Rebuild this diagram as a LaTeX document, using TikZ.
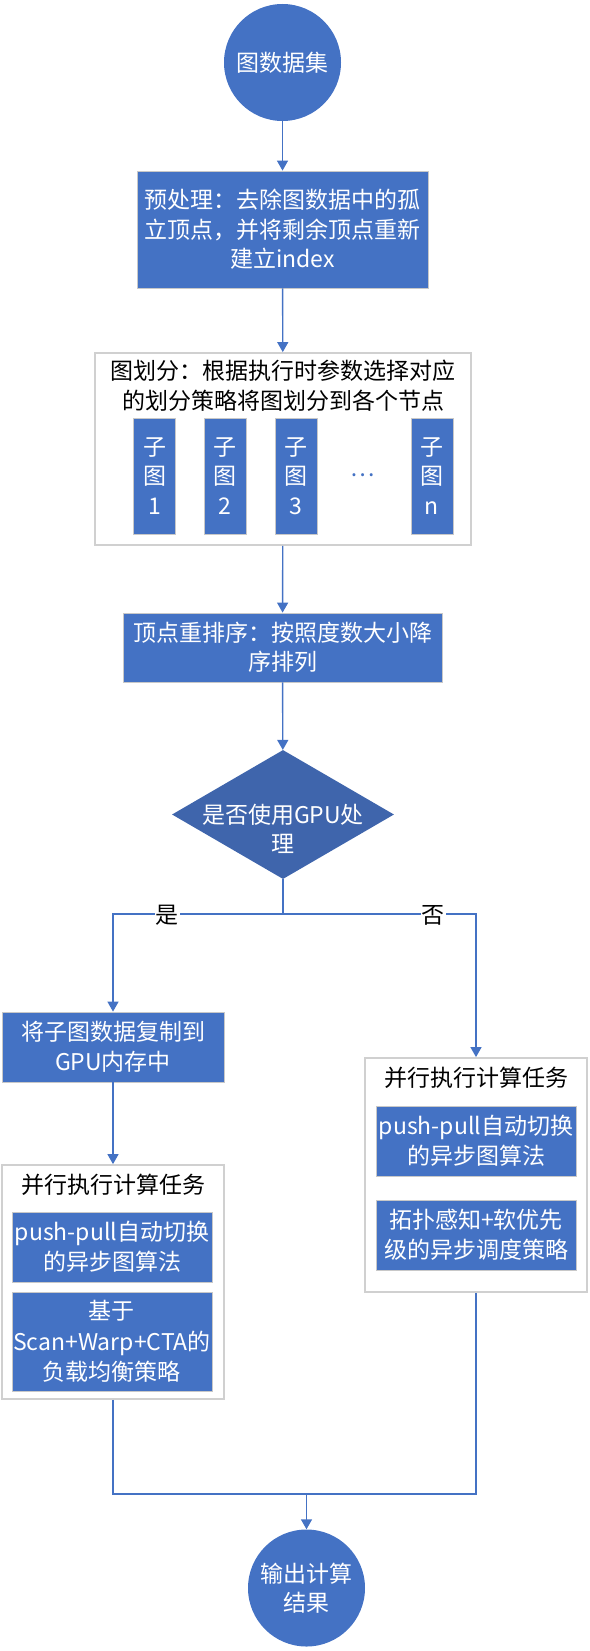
\documentclass[tikz,border=0pt]{standalone}
\usepackage{fontspec}
\setmainfont{Noto Sans CJK SC}
\usetikzlibrary{arrows.meta,shapes.geometric}
\definecolor{fillblue}{HTML}{4472C4}
\definecolor{darkblue}{HTML}{3F65AC}
\definecolor{edgegray}{HTML}{C8C8C8}
\definecolor{framegray}{HTML}{D0D0D0}
\begin{document}
\begin{tikzpicture}[x=1pt,y=-1pt,
  txt/.style={font=\fontsize{23}{29.5}\selectfont, align=center, inner sep=0pt},
  bluebox/.style={txt, rectangle, fill=fillblue, draw=edgegray, line width=0.8pt, text=white},
  frame/.style={rectangle, draw=framegray, line width=1.8pt, fill=white, inner sep=0pt},
  term/.style={txt, circle, fill=fillblue, text=white, minimum size=117pt},
  conn/.style={draw=fillblue, line width=1.4pt},
  arr/.style={conn, -{Triangle[width=11pt,length=10pt]}},
  lbl/.style={txt, fill=white, text=black, inner sep=1pt}]
  \useasboundingbox (0,0) rectangle (589,1651);

  % start
  \node[term] (src) at (282.5,62.5) {图数据集};

  % preprocessing
  \node[bluebox, minimum width=291pt, minimum height=117pt] (pre) at (282.5,229.5)
    {预处理：去除图数据中的孤\\立顶点，并将剩余顶点重新\\建立index};

  % partitioning with sub-graphs
  \node[frame, minimum width=376pt, minimum height=192pt] (part) at (283,449) {};
  \node[txt] (parttitle) at (283,385.5) {图划分：根据执行时参数选择对应\\的划分策略将图划分到各个节点};
  \node[bluebox, minimum width=42pt, minimum height=116pt] (sg1) at (154.5,476) {子\\图\\1};
  \node[bluebox, minimum width=42pt, minimum height=116pt] (sg2) at (225,476) {子\\图\\2};
  \node[bluebox, minimum width=42pt, minimum height=116pt] (sg3) at (296,476) {子\\图\\3};
  \node[txt, text=fillblue] (sgdots) at (363,475) {…};
  \node[bluebox, minimum width=42pt, minimum height=116pt] (sgn) at (432,476) {子\\图\\n};

  % reorder
  \node[bluebox, minimum width=319pt, minimum height=69pt] (reorder) at (282.5,647.5)
    {顶点重排序：按照度数大小降\\序排列};

  % decision
  \node[diamond, fill=darkblue, minimum width=222pt, minimum height=129pt, aspect=1.72, inner sep=0pt] (dec) at (283,814.5) {};
  \node[txt, text=white] (dectext) at (283,829) {是否使用GPU处\\理};

  % GPU branch
  \node[bluebox, minimum width=222pt, minimum height=70pt] (copy) at (113,1047)
    {将子图数据复制到\\GPU内存中};
  \node[frame, minimum width=222pt, minimum height=234pt] (gpu) at (113,1282) {};
  \node[txt] (gputitle) at (113,1185) {并行执行计算任务};
  \node[bluebox, minimum width=200pt, minimum height=70pt] (gpuA) at (112,1247)
    {push-pull自动切换\\的异步图算法};
  \node[bluebox, minimum width=200pt, minimum height=99pt, font=\fontsize{23}{30.5}\selectfont] (gpuB) at (112,1341.5)
    {基于\\Scan+Warp+CTA的\\负载均衡策略};

  % CPU branch
  \node[frame, minimum width=222pt, minimum height=234pt] (cpu) at (476,1175) {};
  \node[txt] (cputitle) at (476,1078) {并行执行计算任务};
  \node[bluebox, minimum width=200pt, minimum height=70pt] (cpuA) at (476,1141)
    {push-pull自动切换\\的异步图算法};
  \node[bluebox, minimum width=200pt, minimum height=70pt] (cpuB) at (476,1235)
    {拓扑感知+软优先\\级的异步调度策略};

  % end
  \node[term] (dst) at (306.5,1588) {输出计算\\结果};

  % connectors
  \coordinate (split) at (283,914);
  \coordinate (join) at (306.5,1494);
  \draw[arr] (src) -- (pre);
  \draw[arr] (pre) -- (part);
  \draw[arr] (part) -- (reorder);
  \draw[arr] (reorder) -- (dec);
  \draw[conn] (dec.south) -- (split);
  \draw[arr] (split) -| (copy.north);
  \draw[arr] (split) -| (cpu.north);
  \draw[arr] (copy) -- (gpu);
  \draw[conn] (gpu.south) |- (join) -| (cpu.south);
  \draw[arr] (join) -- (dst);

  % branch labels
  \node[lbl] (yes) at (167,915) {是};
  \node[lbl] (no) at (433,915) {否};
\end{tikzpicture}
\end{document}
